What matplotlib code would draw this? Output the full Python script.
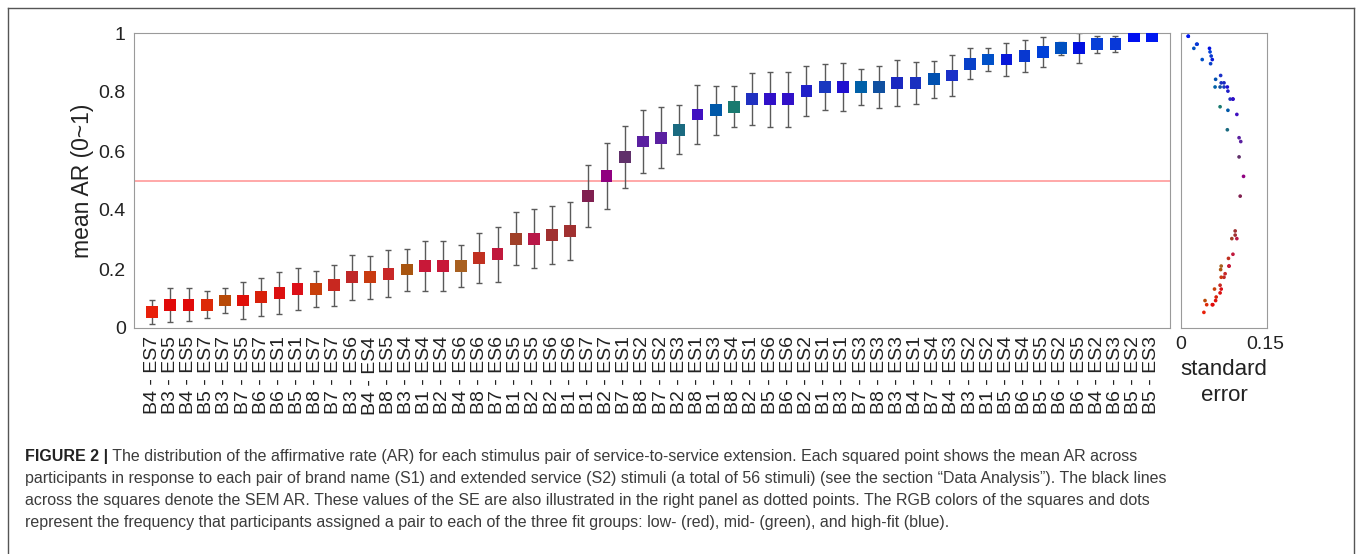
import numpy as np
import matplotlib
matplotlib.use('Agg')
import matplotlib.pyplot as plt
from matplotlib.lines import Line2D
from matplotlib import font_manager

# stimulus pairs, sorted by mean AR
labels = ['B4 - ES7', 'B3 - ES5', 'B4 - ES5', 'B5 - ES7', 'B3 - ES7', 'B7 - ES5', 'B6 - ES7',
          'B6 - ES1', 'B5 - ES1', 'B8 - ES7', 'B7 - ES7', 'B3 - ES6', 'B4 - ES4', 'B8 - ES5',
          'B3 - ES4', 'B1 - ES4', 'B2 - ES4', 'B4 - ES6', 'B8 - ES6', 'B7 - ES6', 'B1 - ES5',
          'B2 - ES5', 'B2 - ES6', 'B1 - ES6', 'B1 - ES7', 'B2 - ES7', 'B7 - ES1', 'B8 - ES2',
          'B7 - ES2', 'B2 - ES3', 'B8 - ES1', 'B1 - ES3', 'B8 - ES4', 'B2 - ES1', 'B5 - ES6',
          'B6 - ES6', 'B2 - ES2', 'B1 - ES1', 'B3 - ES1', 'B7 - ES3', 'B8 - ES3', 'B3 - ES3',
          'B4 - ES1', 'B7 - ES4', 'B4 - ES3', 'B3 - ES2', 'B1 - ES2', 'B5 - ES4', 'B6 - ES4',
          'B5 - ES5', 'B6 - ES2', 'B6 - ES5', 'B4 - ES2', 'B6 - ES3', 'B5 - ES2', 'B5 - ES3']

mean_ar = [0.053, 0.079, 0.079, 0.079, 0.093, 0.093, 0.105, 0.119, 0.132, 0.132, 0.145,
           0.172, 0.172, 0.184, 0.198, 0.210, 0.210, 0.210, 0.236, 0.250, 0.303, 0.303,
           0.315, 0.329, 0.447, 0.514, 0.580, 0.632, 0.645, 0.672, 0.724, 0.738, 0.750,
           0.776, 0.776, 0.776, 0.803, 0.817, 0.817, 0.817, 0.817, 0.831, 0.831, 0.843,
           0.856, 0.896, 0.910, 0.910, 0.922, 0.936, 0.948, 0.948, 0.962, 0.962, 0.989, 0.989]

se = [0.041, 0.057, 0.056, 0.046, 0.043, 0.062, 0.063, 0.070, 0.072, 0.060, 0.070,
      0.077, 0.072, 0.079, 0.071, 0.086, 0.086, 0.072, 0.085, 0.093, 0.091, 0.100,
      0.097, 0.097, 0.106, 0.112, 0.104, 0.107, 0.104, 0.083, 0.100, 0.084, 0.070,
      0.088, 0.093, 0.093, 0.084, 0.077, 0.083, 0.061, 0.070, 0.077, 0.072, 0.062,
      0.071, 0.053, 0.038, 0.056, 0.054, 0.052, 0.023, 0.051, 0.029, 0.028, 0.013, 0.013]

# RGB = share of low / mid / high fit assignments
colors = ['#e8200a', '#e00a0a', '#e00a0a', '#dd2a08', '#b84a08', '#e0100a', '#d8200a',
          '#dc1010', '#dc1018', '#c8400c', '#c82820', '#c02828', '#c83a10', '#c82828',
          '#a85510', '#c81838', '#c81838', '#a86020', '#c03020', '#c0183c', '#a04028',
          '#b81848', '#a03030', '#a03030', '#802050', '#900080', '#60306a', '#5a20a0',
          '#5a20a0', '#1a6a80', '#4010c0', '#0058a8', '#1a7a70', '#2030c0', '#3010c8',
          '#3010c8', '#2020c8', '#1a38c0', '#2010d0', '#0060a8', '#1050a0', '#1a28c0',
          '#1a30c0', '#0050b0', '#1a30c8', '#0840c8', '#0050c8', '#0818d8', '#0838d0',
          '#0040d8', '#0050c0', '#0010e0', '#0840d8', '#0838d8', '#0010f0', '#0018f0']

caption_bold = 'FIGURE 2 |'
caption_lines = [
    ' The distribution of the affirmative rate (AR) for each stimulus pair of service-to-service extension. Each squared point shows the mean AR across',
    'participants in response to each pair of brand name (S1) and extended service (S2) stimuli (a total of 56 stimuli) (see the section \u201cData Analysis\u201d). The black lines',
    'across the squares denote the SEM AR. These values of the SE are also illustrated in the right panel as dotted points. The RGB colors of the squares and dots',
    'represent the frequency that participants assigned a pair to each of the three fit groups: low- (red), mid- (green), and high-fit (blue).',
]

plt.rcParams['font.family'] = ['Liberation Sans', 'DejaVu Sans']

# narrow face for the caption if it exists
names = {f.name for f in font_manager.fontManager.ttflist}
cap_family = ['Liberation Sans Narrow'] if 'Liberation Sans Narrow' in names else ['Liberation Sans']

W, H = 1357, 554
fig = plt.figure(figsize=(W / 100, H / 100), dpi=100)
ax = fig.add_axes([134 / W, 226 / H, 1036 / W, 295 / H])
ax2 = fig.add_axes([1181 / W, 226 / H, 86 / W, 295 / H])

# 主图: mean AR + SE
x = np.arange(len(labels))
ax.axhline(0.5, color='#ff9a9a', lw=1.2, zorder=1)
ax.errorbar(x, mean_ar, yerr=se, fmt='none', ecolor='#5a5a5a', elinewidth=1,
            capsize=2.5, capthick=1, zorder=2)
ax.scatter(x, mean_ar, marker='s', s=72, c=colors, linewidths=0, zorder=3)
ax.set_xlim(-1, 56)
ax.set_ylim(0, 1)
ax.set_yticks([0, 0.2, 0.4, 0.6, 0.8, 1])
ax.set_yticklabels(['0', '0.2', '0.4', '0.6', '0.8', '1'])
ax.set_xticks(x)
ax.set_xticklabels(labels, rotation=90)
ax.tick_params(length=0, labelsize=14, pad=6, colors='#222222')
ax.set_ylabel('mean AR (0~1)', fontsize=16.5, labelpad=3, color='#222222')
for s in ax.spines.values():
    s.set_color('#9a9a9a')

# 右图: SE
ax2.scatter(se, mean_ar, s=7, c=colors, linewidths=0)
ax2.set_xlim(0, 0.154)
ax2.set_ylim(0, 1)
ax2.set_xticks([0, 0.15])
ax2.set_xticklabels(['0', '0.15'])
ax2.set_yticks([])
ax2.tick_params(length=0, labelsize=14, pad=6, colors='#222222')
ax2.set_xlabel('standard\nerror', fontsize=16, linespacing=1.35, labelpad=4, color='#222222')
for s in ax2.spines.values():
    s.set_color('#9a9a9a')

# 外框
for xs, ys in [([8, 8], [8, H]), ([1354, 1354], [8, H]), ([8, 1354], [8, 8])]:
    fig.add_artist(Line2D([v / W for v in xs], [1 - v / H for v in ys],
                          transform=fig.transFigure, color='#555555', lw=1))

# caption, sized so the second line spans the same width as in the figure
renderer = fig.canvas.get_renderer()
probe = fig.text(0, 0, caption_lines[1], fontsize=12, family=cap_family)
w = probe.get_window_extent(renderer).width
probe.remove()
cap_fs = 12 * (1169 - 25) / w

line_y = [456, 478, 500, 522]
bold = fig.text(25 / W, 1 - line_y[0] / H, caption_bold, fontsize=cap_fs, fontweight='bold',
                family=cap_family, va='center', color='#222222')
bx = bold.get_window_extent(renderer).x1 / W
fig.text(bx, 1 - line_y[0] / H, caption_lines[0], fontsize=cap_fs, family=cap_family,
         va='center', color='#3c3c3c')
for t, yy in zip(caption_lines[1:], line_y[1:]):
    fig.text(25 / W, 1 - yy / H, t, fontsize=cap_fs, family=cap_family,
             va='center', color='#3c3c3c')

fig.savefig('out.png', dpi=100)
